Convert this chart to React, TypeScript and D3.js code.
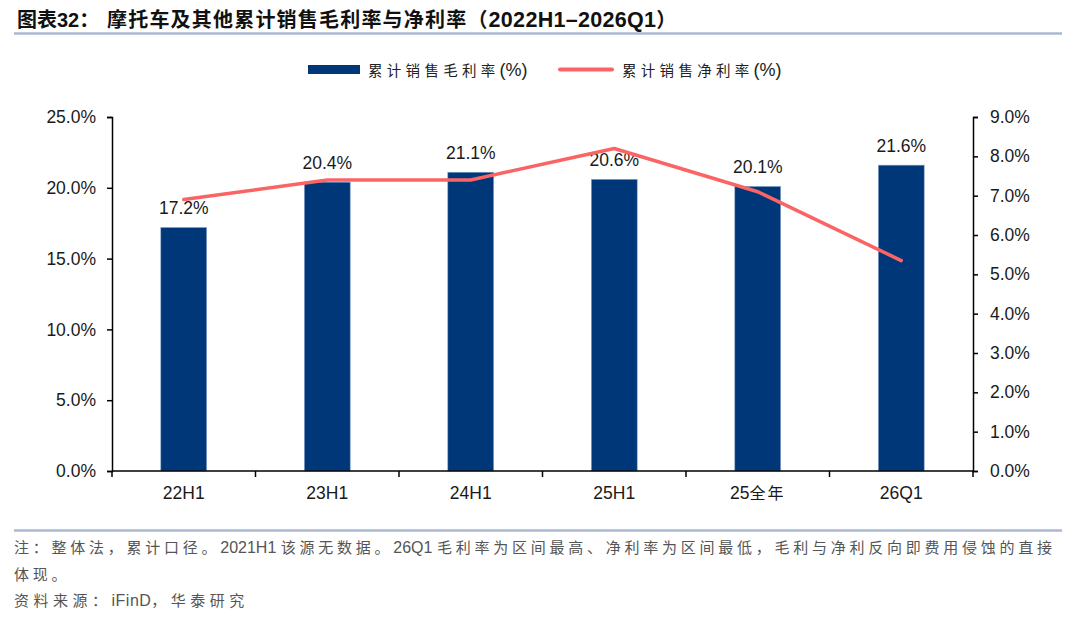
import React, { useRef, useEffect } from "react";
import * as d3 from "d3";

const categories = ["22H1", "23H1", "24H1", "25H1", "25全年", "26Q1"];
const grossMargin = [17.2, 20.4, 21.1, 20.6, 20.1, 21.6];
const netMargin = [6.9, 7.4, 7.4, 8.2, 7.1, 5.35];
const leftTicks = [0, 5, 10, 15, 20, 25];
const rightTicks = [0, 1, 2, 3, 4, 5, 6, 7, 8, 9];

const titleHead = "图表32：";
const titleBody = "摩托车及其他累计销售毛利率与净利率（2022H1–2026Q1）";
const noteLine1 = "注：整体法，累计口径。2021H1 该源无数据。26Q1 毛利率为区间最高、净利率为区间最低，毛利与净利反向即费用侵蚀的直接";
const noteLine2 = "体现。";
const source = "资料来源：iFinD，华泰研究";
const legendBar = "累计销售毛利率(%)";
const legendLine = "累计销售净利率(%)";

const FONT = "'Liberation Sans', Arial, 'Noto Sans CJK SC', sans-serif";
const BAR = "#003778";
const LINE = "#fb6464";

// split a string into CJK / latin runs so each can get its own spacing
const splitRuns = (s: string) =>
  (s.match(/[\u3000-\u303f\u4e00-\u9fff\uff00-\uffef]+|[^\u3000-\u303f\u4e00-\u9fff\uff00-\uffef]+/g) || []).map((t) => ({
    t,
    cjk: /[\u3000-\u303f\u4e00-\u9fff\uff00-\uffef]/.test(t),
  }));

const App: React.FC = () => {
  const svgRef = useRef<SVGSVGElement | null>(null);
  const width = 1080;
  const height = 618;

  useEffect(() => {
    if (!svgRef.current) return;
    const svg = d3.select(svgRef.current);
    svg.selectAll("*").remove();

    const left = 112;
    const right = 973;
    const top = 117;
    const bottom = 471;

    const mixedText = (
      g: d3.Selection<SVGGElement, unknown, null, undefined>,
      str: string,
      xPos: number,
      yPos: number,
      cjkSize: number,
      cjkSpace: number,
      latSize: number,
      latSpace: number
    ) => {
      const t = g.append("text").attr("x", xPos).attr("y", yPos);
      splitRuns(str).forEach((r) => {
        t.append("tspan")
          .attr("font-size", r.cjk ? cjkSize : latSize)
          .attr("letter-spacing", r.cjk ? cjkSpace : latSpace)
          .text(r.t);
      });
      return t;
    };

    // title + rules
    const tg = svg.append("g").attr("font-family", FONT).attr("font-weight", "bold").attr("fill", "#111");
    tg.append("text").attr("x", 17).attr("y", 27).attr("font-size", 20).text(titleHead);
    mixedText(tg, titleBody, 107, 27, 20, 1.2, 21.5, 0.3);
    svg.append("line")
      .attr("x1", 14).attr("x2", 1062).attr("y1", 33.5).attr("y2", 33.5)
      .attr("stroke", "#a9b9d2").attr("stroke-width", 2.5);
    svg.append("line")
      .attr("x1", 14).attr("x2", 1062).attr("y1", 530.5).attr("y2", 530.5)
      .attr("stroke", "#a9b9d2").attr("stroke-width", 2.5);

    // scales
    const x = d3.scaleBand().domain(categories).range([left, right]).paddingInner(0).paddingOuter(0);
    const yL = d3.scaleLinear().domain([0, 25]).range([bottom, top]);
    const yR = d3.scaleLinear().domain([0, 9]).range([bottom, top]);
    const barW = x.bandwidth() * 0.32;

    // bars
    svg.append("g").selectAll("rect")
      .data(grossMargin)
      .join("rect")
      .attr("x", (_, i) => x(categories[i])! + (x.bandwidth() - barW) / 2)
      .attr("y", (d) => yL(d))
      .attr("width", barW)
      .attr("height", (d) => bottom - yL(d))
      .attr("fill", BAR)
      .attr("stroke", "#8fa9cf")
      .attr("stroke-width", 0.6);

    // bar labels
    svg.append("g").selectAll("text")
      .data(grossMargin)
      .join("text")
      .attr("x", (_, i) => x(categories[i])! + x.bandwidth() / 2)
      .attr("y", (d) => yL(d) - 13)
      .attr("text-anchor", "middle")
      .attr("font-family", FONT).attr("font-size", 17.5).attr("fill", "#1a1a1a")
      .text((d) => d.toFixed(1) + "%");

    // net margin line
    const line = d3.line<number>()
      .x((_, i) => x(categories[i])! + x.bandwidth() / 2)
      .y((d) => yR(d));
    svg.append("path")
      .datum(netMargin)
      .attr("d", line)
      .attr("fill", "none")
      .attr("stroke", LINE)
      .attr("stroke-width", 3.5)
      .attr("stroke-linecap", "round")
      .attr("stroke-linejoin", "round");

    // axes
    const fmt = (d: d3.NumberValue) => (+d).toFixed(1) + "%";
    const gl = svg.append("g").attr("transform", `translate(${left},0)`)
      .call(d3.axisLeft(yL).tickValues(leftTicks).tickSize(5).tickPadding(11).tickFormat(fmt));
    const gr = svg.append("g").attr("transform", `translate(${right},0)`)
      .call(d3.axisRight(yR).tickValues(rightTicks).tickSize(5).tickPadding(12).tickFormat(fmt));
    const gb = svg.append("g").attr("transform", `translate(0,${bottom})`)
      .call(d3.axisBottom(x).tickSize(0).tickPadding(16));
    gb.selectAll(".tick").append("line")
      .attr("x1", -x.bandwidth() / 2).attr("x2", -x.bandwidth() / 2)
      .attr("y1", 0).attr("y2", 6)
      .attr("stroke", "#000").attr("stroke-width", 1.5);
    gb.append("line")
      .attr("x1", right).attr("x2", right).attr("y1", 0).attr("y2", 6)
      .attr("stroke", "#000").attr("stroke-width", 1.5);

    [gl, gr, gb].forEach((g) => {
      g.select(".domain").attr("stroke", "#000").attr("stroke-width", 1.5);
      g.selectAll(".tick line").attr("stroke", "#000").attr("stroke-width", 1.5);
      g.selectAll(".tick text")
        .attr("font-family", FONT).attr("font-size", 17.5).attr("fill", "#1a1a1a");
    });
    gb.select(".domain").attr("d", `M${left},0H${right}`);
    // CJK part of "25全年" a little smaller / spaced like the original
    gb.selectAll<SVGTextElement, string>(".tick text").each(function (d) {
      const el = d3.select(this);
      el.text(null);
      splitRuns(d).forEach((r) => {
        el.append("tspan")
          .attr("font-size", r.cjk ? 16 : 17.5)
          .attr("letter-spacing", r.cjk ? 2 : 0)
          .text(r.t);
      });
    });

    // legend
    const lg = svg.append("g").attr("font-family", FONT).attr("fill", "#222");
    lg.append("rect").attr("x", 308).attr("y", 65).attr("width", 52).attr("height", 9).attr("fill", BAR);
    mixedText(lg, legendBar, 368, 76, 14.5, 4.3, 18, 0);
    lg.append("line").attr("x1", 560).attr("x2", 612).attr("y1", 69.5).attr("y2", 69.5)
      .attr("stroke", LINE).attr("stroke-width", 4).attr("stroke-linecap", "round");
    mixedText(lg, legendLine, 622, 76, 14.5, 4.3, 18, 0);

    // footnotes
    const ft = svg.append("g").attr("font-family", FONT).attr("fill", "#555");
    mixedText(ft, noteLine1, 14, 553, 15, 3.75, 16, 0);
    mixedText(ft, noteLine2, 14, 580, 15, 3.75, 16, 0);
    mixedText(ft, source, 14, 606, 15, 4.5, 16, 0.5);
  }, []);

  return (
    <div style={{ position: "absolute", left: 0, top: 0, background: "#fff" }}>
      <svg ref={svgRef} width={width} height={height}></svg>
    </div>
  );
};

export default App;
